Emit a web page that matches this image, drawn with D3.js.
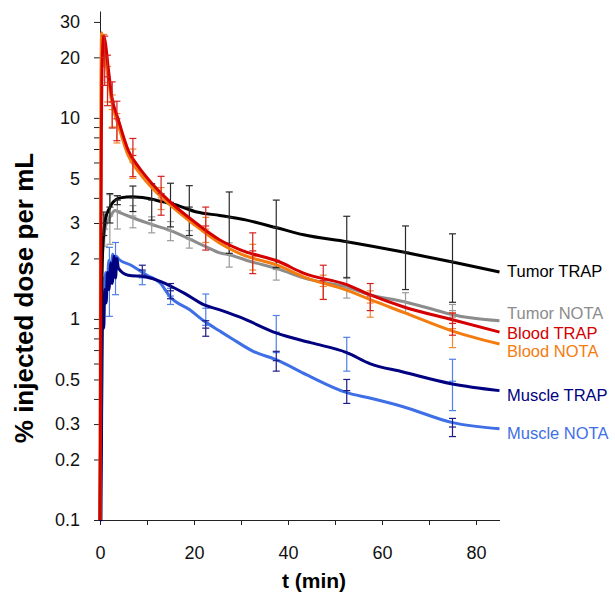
<!DOCTYPE html>
<html lang="en">
<head>
    <meta charset="UTF-8">
    <title>Time activity curves</title>
    <style>
        body { margin: 0; background: #fff; }
        #chart { width: 615px; height: 593px; }
        text { font-family: Arial, "Liberation Sans", sans-serif; }
    </style>
</head>
<body>
    <div id="chart"></div>

    <script src="https://d3js.org/d3.v7.min.js"></script>
    <script>
        // Series names (legend labels at line ends)
        const seriesNames = ["Muscle NOTA", "Muscle TRAP", "Tumor NOTA", "Tumor TRAP", "Blood NOTA", "Blood TRAP"];

        // Curves: time (min) and % injected dose per mL
        const muscleNotaT = [0, 0.3, 0.5, 0.7, 0.9, 1.2, 1.5, 1.9, 2.3, 2.7, 3.0, 3.4, 4, 6.4, 10, 12.8, 14.9, 19.1, 22.3, 25.5, 28, 32.6, 37.6, 44, 52.5, 57.4, 64.5, 75, 85];
        const muscleNotaV = [0.1, 0.3, 1.0, 1.6, 1.2, 1.7, 1.45, 1.95, 1.6, 2.1, 1.7, 2.05, 1.98, 1.86, 1.65, 1.51, 1.29, 1.11, 0.97, 0.87, 0.8, 0.69, 0.625, 0.527, 0.43, 0.404, 0.366, 0.305, 0.284];

        const muscleTrapT = [0, 0.2, 0.4, 0.6, 0.8, 1.0, 1.3, 1.6, 1.9, 2.3, 2.6, 3.0, 3.3, 3.6, 3.9, 6, 9.6, 13.1, 15.2, 18, 22.3, 25.5, 29.8, 37.6, 45, 52.5, 57.4, 64.5, 75, 85];
        const muscleTrapV = [0.1, 0.1, 0.6, 1.2, 0.9, 1.4, 1.2, 1.7, 1.4, 1.9, 1.5, 2.05, 1.6, 2.0, 1.79, 1.65, 1.62, 1.53, 1.45, 1.34, 1.17, 1.11, 1.02, 0.85, 0.76, 0.68, 0.6, 0.545, 0.475, 0.44];

        const tumorNotaT = [0, 0.2, 0.35, 0.7, 1.2, 2.1, 3.2, 4, 6, 11, 15, 19, 22.3, 25.5, 27.7, 32, 38, 43.3, 52.5, 57.4, 64.5, 70, 75, 85];
        const tumorNotaV = [0.1, 0.5, 1.56, 2.4, 2.9, 3.2, 3.46, 3.4, 3.25, 2.95, 2.75, 2.5, 2.3, 2.13, 2.08, 1.93, 1.77, 1.6, 1.44, 1.32, 1.22, 1.13, 1.05, 0.98];

        const tumorTrapT = [0, 0.15, 0.3, 0.5, 0.8, 1.1, 2, 2.8, 4.3, 7, 10, 13.4, 16, 20.6, 25.5, 31.2, 37.6, 43.3, 52.5, 64.5, 75, 85];
        const tumorTrapV = [0.1, 0.3, 1, 2, 2.7, 3.1, 3.55, 3.82, 4.0, 4.05, 3.98, 3.82, 3.7, 3.4, 3.27, 3.1, 2.84, 2.62, 2.42, 2.15, 1.92, 1.71];

        const bloodNotaT = [0, 0.1, 0.2, 0.35, 0.6, 1.1, 1.8, 2.5, 3.9, 6, 8.2, 11, 14, 20, 25.5, 30, 38, 43.3, 52.5, 57.4, 64.5, 75, 85];
        const bloodNotaV = [0.1, 2, 15, 26.5, 24, 20, 15.5, 12, 9.2, 6.5, 5.4, 4.5, 3.85, 2.95, 2.38, 2.1, 1.84, 1.62, 1.39, 1.25, 1.08, 0.87, 0.75];

        const bloodTrapT = [0, 0.15, 0.3, 0.5, 0.8, 1.1, 1.8, 2.5, 3.9, 6, 8.2, 11, 14, 20, 25.5, 30, 38, 43.3, 52.5, 57.4, 64.5, 75, 85];
        const bloodTrapV = [0.1, 1, 8, 20, 25.5, 24, 17.3, 12.8, 9.8, 6.9, 5.7, 4.73, 4.0, 3.05, 2.47, 2.2, 1.93, 1.69, 1.48, 1.32, 1.15, 0.99, 0.86];

        // Error bars: time, mean, SD
        const muscleNotaErrT = [2, 3.3, 9, 15, 22.5, 37.5, 52.5, 75];
        const muscleNotaErrM = [1.65, 1.86, 1.6, 1.3, 1.13, 0.86, 0.68, 0.49];
        const muscleNotaErrS = [0.62, 0.54, 0.12, 0.12, 0.2, 0.18, 0.13, 0.14];

        const muscleTrapErrT = [9, 15, 22.5, 37.5, 52.5, 75];
        const muscleTrapErrM = [1.75, 1.38, 0.9, 0.62, 0.44, 0.29];
        const muscleTrapErrS = [0.1, 0.12, 0.08, 0.07, 0.06, 0.03];

        const tumorNotaErrT = [1, 2.1, 3.7, 7, 11, 15, 19, 27.5, 37.5, 52.5, 65, 75];
        const tumorNotaErrM = [2.8, 3.25, 3.45, 3.25, 2.95, 2.75, 2.5, 2.1, 1.76, 1.44, 1.21, 1.1];
        const tumorNotaErrS = [0.5, 0.9, 0.65, 0.41, 0.27, 0.3, 0.25, 0.29, 0.2, 0.17, 0.14, 0.08];

        const tumorTrapErrT = [0.8, 2.1, 3.7, 7, 11, 15, 19, 27.5, 37.5, 52.5, 65, 75];
        const tumorTrapErrM = [3.0, 3.6, 3.9, 4.0, 3.9, 3.8, 3.6, 3.2, 2.85, 2.42, 2.15, 1.93];
        const tumorTrapErrS = [0.4, 0.6, 0.2, 0.58, 0.8, 0.93, 1.0, 1.08, 1.05, 0.82, 0.75, 0.72];

        const bloodNotaErrT = [0.8, 1.6, 2.6, 3.6, 7, 13, 22.5, 32.5, 47.5, 57.5, 75];
        const bloodNotaErrM = [22, 15, 11, 9, 6, 4.0, 2.8, 2.05, 1.45, 1.2, 0.895];
        const bloodNotaErrS = [4, 3, 2, 1.5, 1, 0.5, 0.4, 0.3, 0.2, 0.18, 0.175];

        const bloodTrapErrT = [1.0, 1.6, 2.6, 3.6, 7, 13, 22.5, 32.5, 47.5, 57.5, 75];
        const bloodTrapErrM = [20, 16, 12, 9.9, 6.5, 4.2, 2.9, 2.18, 1.55, 1.3, 0.95];
        const bloodTrapErrS = [5.5, 4.5, 3.1, 2.2, 1.4, 0.92, 0.7, 0.5, 0.3, 0.2, 0.12];

        // Value at which each end label sits
        const labelAt = [0.27, 0.42, 1.07, 1.73, 0.69, 0.855];

        // Axis ticks
        const xTicks = [0, 10, 20, 30, 40, 50, 60, 70, 80];
        const xTickLabels = [0, 20, 40, 60, 80];
        const yTicks = [0.1, 0.2, 0.3, 0.4, 0.5, 0.6, 0.7, 0.8, 0.9, 1, 2, 3, 4, 5, 6, 7, 8, 9, 10, 20, 30];
        const yTickLabels = [0.1, 0.2, 0.3, 0.5, 1, 2, 3, 5, 10, 20, 30];

        const colors = ["#3f6fe6", "#000080", "#8c8c8c", "#000000", "#f47b0e", "#d40000"];
        const barColors = ["#4f7fe8", "#1c1c88", "#9a9a9a", "#2a2a2a", "#f08a30", "#d62020"];

        const curves = [
            [muscleNotaT, muscleNotaV], [muscleTrapT, muscleTrapV], [tumorNotaT, tumorNotaV],
            [tumorTrapT, tumorTrapV], [bloodNotaT, bloodNotaV], [bloodTrapT, bloodTrapV]
        ];
        const errs = [
            [muscleNotaErrT, muscleNotaErrM, muscleNotaErrS], [muscleTrapErrT, muscleTrapErrM, muscleTrapErrS],
            [tumorNotaErrT, tumorNotaErrM, tumorNotaErrS], [tumorTrapErrT, tumorTrapErrM, tumorTrapErrS],
            [bloodNotaErrT, bloodNotaErrM, bloodNotaErrS], [bloodTrapErrT, bloodTrapErrM, bloodTrapErrS]
        ];

        const W = 615, H = 593;
        const svg = d3.select("#chart").append("svg")
            .attr("width", W).attr("height", H);

        const x = d3.scaleLinear().domain([0, 85]).range([100, 499.5]);
        const y = d3.scaleLog().domain([0.1, 34]).range([520, 11]);

        // axes
        const fmt = d => String(d);
        svg.append("g")
            .attr("transform", "translate(0,520)")
            .call(d3.axisBottom(x).tickValues(xTicks).tickSize(5).tickSizeOuter(0).tickPadding(21)
                .tickFormat(d => xTickLabels.includes(d) ? fmt(d) : ""))
            .call(g => g.selectAll("text").style("font-size", "18px").attr("fill", "#111"));

        svg.append("g")
            .attr("transform", "translate(100,0)")
            .call(d3.axisLeft(y).tickValues(yTicks).tickSize(6).tickSizeOuter(0).tickPadding(14)
                .tickFormat(d => yTickLabels.includes(d) ? fmt(d) : ""))
            .call(g => g.selectAll("text").style("font-size", "18px").attr("fill", "#111"));

        svg.selectAll(".domain, .tick line").attr("stroke", "#222");

        svg.append("text")
            .attr("x", 314).attr("y", 588)
            .attr("text-anchor", "middle")
            .style("font-size", "21px").style("font-weight", "bold")
            .text("t (min)");

        svg.append("text")
            .attr("transform", "translate(33,298) rotate(-90)")
            .attr("text-anchor", "middle")
            .style("font-size", "26px").style("font-weight", "bold")
            .text("% injected dose per mL");

        const line = d3.line()
            .x(d => x(d[0]))
            .y(d => y(d[1]))
            .curve(d3.curveMonotoneX);

        const cap = 3.5;
        curves.forEach((c, i) => {
            const pts = c[0].map((t, j) => [t, c[1][j]]);
            svg.append("path")
                .attr("d", line(pts))
                .attr("fill", "none")
                .attr("stroke", colors[i])
                .attr("stroke-width", 3)
                .attr("stroke-linejoin", "round");

            const e = errs[i];
            const bars = svg.append("g")
                .attr("stroke", barColors[i])
                .attr("stroke-width", 1.2)
                .selectAll("g")
                .data(e[0].map((t, j) => ({ t: t, m: e[1][j], s: e[2][j] })))
                .enter().append("g");

            bars.append("line")
                .attr("x1", d => x(d.t)).attr("x2", d => x(d.t))
                .attr("y1", d => y(d.m + d.s)).attr("y2", d => y(Math.max(d.m - d.s, 0.1)));
            [d => d.m + d.s, d => d.m, d => Math.max(d.m - d.s, 0.1)].forEach(f => {
                bars.append("line")
                    .attr("x1", d => x(d.t) - cap).attr("x2", d => x(d.t) + cap)
                    .attr("y1", d => y(f(d))).attr("y2", d => y(f(d)));
            });
        });

        // labels at line ends
        svg.selectAll(".endLabel")
            .data(seriesNames)
            .enter().append("text")
            .attr("class", "endLabel")
            .attr("x", 507)
            .attr("y", (d, i) => y(labelAt[i]))
            .attr("dy", "0.36em")
            .style("font-size", "16.5px")
            .attr("fill", (d, i) => colors[i])
            .text(d => d);
    </script>
</body>
</html>
